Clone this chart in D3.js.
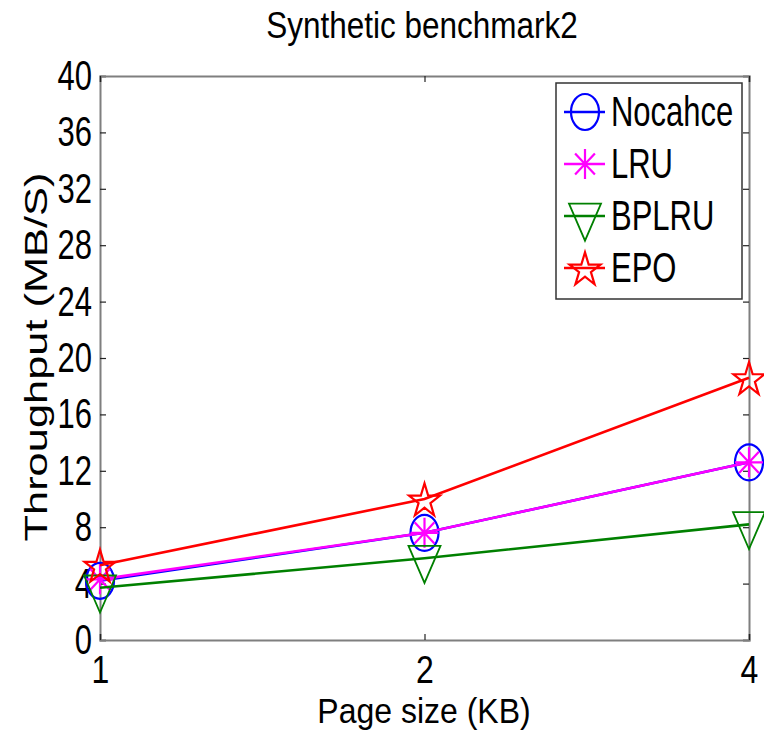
<!DOCTYPE html>
<html>
<head>
<meta charset="utf-8">
<script src="https://cdn.jsdelivr.net/npm/d3@7"></script>
<style>
  body { margin: 0; background: #fff; }
  svg text { font-family: "Liberation Sans", Arial, sans-serif; fill: #000; }
</style>
</head>
<body>
<svg width="764" height="737"></svg>
<script>
const pageSizes = ["1", "2", "4"];
const yTicks = [0, 4, 8, 12, 16, 20, 24, 28, 32, 36, 40];
const nocache = [4.2, 7.6, 12.6];
const lru = [4.3, 7.6, 12.6];
const bplru = [3.7, 5.8, 8.2];
const epo = [5.3, 10.0, 18.6];

const seriesList = [
    { name: "Nocahce", values: nocache, color: "#0000ff", marker: "circle" },
    { name: "LRU", values: lru, color: "#ff00ff", marker: "asterisk" },
    { name: "BPLRU", values: bplru, color: "#008000", marker: "triangle" },
    { name: "EPO", values: epo, color: "#ff0000", marker: "star" }
];

const svg = d3.select('svg');
const margin = { top: 76, left: 100, right: 15, bottom: 97 };
const width = +svg.attr('width') - margin.left - margin.right;
const height = +svg.attr('height') - margin.top - margin.bottom;

const x = d3.scalePoint().domain(pageSizes).range([0, width]);
const y = d3.scaleLinear().domain([0, 40]).range([height, 0]);

const g = svg.append("g").attr("transform", `translate(${margin.left}, ${margin.top})`);

const axisColor = "#7f7f7f";
const tickStretch = 1.35;

// y axis (left, with labels)
const yAxis = g.append("g")
    .call(d3.axisLeft(y).tickValues(yTicks).tickSize(-6).tickPadding(8));
yAxis.selectAll(".tick text")
    .style("font-size", "31px")
    .attr("transform", `scale(1, ${tickStretch})`);

// right, top mirrored ticks
const yAxisR = g.append("g")
    .attr("transform", `translate(${width}, 0)`)
    .call(d3.axisRight(y).tickValues(yTicks).tickSize(-6).tickFormat(""));
const xAxisT = g.append("g")
    .call(d3.axisTop(x).tickSize(-6).tickFormat(""));

// x axis (bottom)
const xAxis = g.append("g")
    .attr("transform", `translate(0, ${height})`)
    .call(d3.axisBottom(x).tickSize(-6));
xAxis.selectAll(".tick text")
    .style("font-size", "32px")
    .attr("dy", null)
    .attr("y", 43 / 1.2)
    .attr("transform", "scale(1, 1.2)");

[yAxis, yAxisR, xAxisT, xAxis].forEach(a => {
    a.select(".domain").attr("stroke", axisColor).attr("stroke-width", 2);
    a.selectAll(".tick line").attr("stroke", "#222").attr("stroke-width", 1.2);
});

// markers
function drawMarker(sel, type, color) {
    if (type === "circle") {
        sel.append("ellipse").attr("rx", 14).attr("ry", 18)
            .attr("fill", "none").attr("stroke", color).attr("stroke-width", 2.2);
    } else if (type === "asterisk") {
        const path = d3.path();
        const rx = 14, ry = 15;
        for (let k = 0; k < 4; k++) {
            const a = k * Math.PI / 4;
            path.moveTo(-rx * Math.cos(a), -ry * Math.sin(a));
            path.lineTo(rx * Math.cos(a), ry * Math.sin(a));
        }
        sel.append("path").attr("d", path.toString())
            .attr("fill", "none").attr("stroke", color).attr("stroke-width", 2.2);
    } else if (type === "triangle") {
        const h = 37, w = 32;
        const pts = [[-w / 2, -h / 3], [w / 2, -h / 3], [0, 2 * h / 3]];
        sel.append("path").attr("d", d3.line()(pts) + "Z")
            .attr("fill", "none").attr("stroke", color).attr("stroke-width", 1.8);
    } else if (type === "star") {
        const pts = [];
        const ro = 1, ri = 0.382;
        for (let k = 0; k < 10; k++) {
            const r = k % 2 === 0 ? ro : ri;
            const a = -Math.PI / 2 + k * Math.PI / 5;
            pts.push([16.3 * r * Math.cos(a), 17.7 * r * Math.sin(a) + 2]);
        }
        sel.append("path").attr("d", d3.line()(pts) + "Z")
            .attr("fill", "none").attr("stroke", color).attr("stroke-width", 2.2);
    }
}

const line = d3.line()
    .x((d, i) => x(pageSizes[i]))
    .y(d => y(d));

seriesList.forEach(s => {
    g.append("path")
        .datum(s.values)
        .attr("fill", "none")
        .attr("stroke", s.color)
        .attr("stroke-width", 2.6)
        .attr("d", line);
    s.values.forEach((v, i) => {
        const m = g.append("g").attr("transform", `translate(${x(pageSizes[i])}, ${y(v)})`);
        drawMarker(m, s.marker, s.color);
    });
});

// legend
const legend = svg.append("g").attr("transform", "translate(556, 83)");
legend.append("rect")
    .attr("width", 186).attr("height", 216)
    .attr("fill", "#fff").attr("stroke", "#333").attr("stroke-width", 1.5);
seriesList.forEach((s, i) => {
    const row = legend.append("g").attr("transform", `translate(0, ${29 + i * 52})`);
    row.append("line")
        .attr("x1", 8).attr("x2", 49)
        .attr("stroke", s.color).attr("stroke-width", 2.6);
    const m = row.append("g").attr("transform", "translate(29, 0)");
    drawMarker(m, s.marker, s.color);
    row.append("text")
        .attr("x", 55)
        .attr("y", 14 / tickStretch)
        .attr("transform", `scale(1, ${tickStretch})`)
        .style("font-size", "31px")
        .text(s.name);
});

// title and axis labels
svg.append("text")
    .attr("text-anchor", "middle")
    .attr("transform", "translate(422, 38) scale(1, 1.15)")
    .style("font-size", "31.5px")
    .text("Synthetic benchmark2");

svg.append("text")
    .attr("text-anchor", "middle")
    .attr("transform", "translate(424, 723) scale(1, 1.1)")
    .style("font-size", "32px")
    .text("Page size (KB)");

svg.append("text")
    .attr("text-anchor", "middle")
    .attr("transform", "translate(47, 357) rotate(-90) scale(1.4, 1)")
    .style("font-size", "31px")
    .text("Throughput (MB/S)");
</script>
</body>
</html>
